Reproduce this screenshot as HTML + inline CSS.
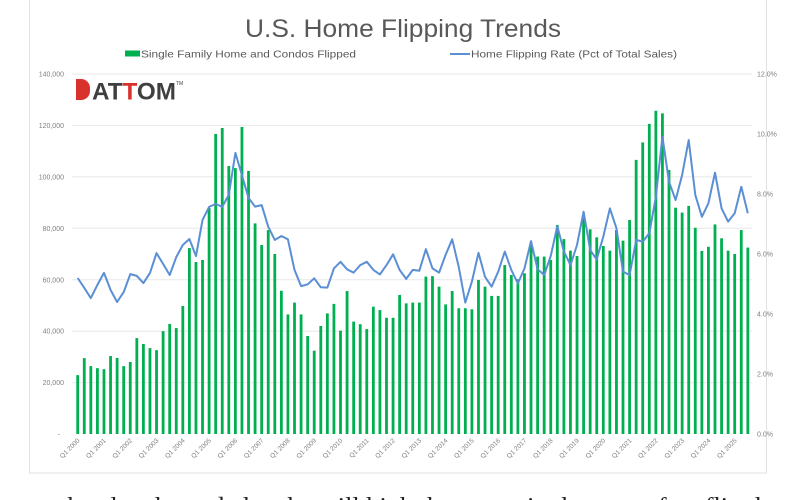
<!DOCTYPE html>
<html><head><meta charset="utf-8"><style>
html,body{margin:0;padding:0;background:#fff;width:804px;height:500px;overflow:hidden}
svg{display:block}
</style></head><body>
<svg id="s" width="804" height="500" viewBox="0 0 804 500" xmlns="http://www.w3.org/2000/svg" font-family="Liberation Sans, sans-serif">
<rect x="29.5" y="-2" width="737" height="475" fill="#fff" stroke="#e2e2e2" stroke-width="1"/>
<text x="403" y="37" text-anchor="middle" font-size="25" fill="#595959" textLength="316" lengthAdjust="spacingAndGlyphs">U.S. Home Flipping Trends</text>
<rect x="125" y="50.5" width="15" height="6" fill="#00b050"/>
<text x="141" y="57.5" font-size="10.5" fill="#595959" textLength="215" lengthAdjust="spacingAndGlyphs">Single Family Home and Condos Flipped</text>
<line x1="450" y1="54" x2="470" y2="54" stroke="#5b8fd4" stroke-width="2"/>
<text x="471" y="57.5" font-size="10.5" fill="#595959" textLength="206" lengthAdjust="spacingAndGlyphs">Home Flipping Rate (Pct of Total Sales)</text>
<g id="grid" stroke="#e8e8e8" stroke-width="1"></g>
<g font-size="7" fill="#7f7f7f" text-anchor="end">
<text x="64" y="76.5">140,000</text>
<text x="64" y="128">120,000</text>
<text x="64" y="179.4">100,000</text>
<text x="64" y="230.8">80,000</text>
<text x="64" y="282.3">60,000</text>
<text x="64" y="333.7">40,000</text>
<text x="64" y="385.1">20,000</text>
<text x="60" y="436.5">-</text>
</g>
<g font-size="7" fill="#7f7f7f">
<text x="757" y="76.5">12.0%</text>
<text x="757" y="136.5">10.0%</text>
<text x="757" y="196.5">8.0%</text>
<text x="757" y="256.5">6.0%</text>
<text x="757" y="316.5">4.0%</text>
<text x="757" y="376.5">2.0%</text>
<text x="757" y="436.5">0.0%</text>
</g>
<g id="bars" fill="#00b050"></g>
<polyline id="ln" fill="none" stroke="#5b8fd4" stroke-width="2" stroke-linejoin="round"/>
<g font-size="6.5" fill="#7f7f7f" text-anchor="end">
<text transform="translate(80,441) rotate(-45)">Q1 2000</text>
<text transform="translate(106.3,441) rotate(-45)">Q1 2001</text>
<text transform="translate(132.6,441) rotate(-45)">Q1 2002</text>
<text transform="translate(158.9,441) rotate(-45)">Q1 2003</text>
<text transform="translate(185.2,441) rotate(-45)">Q1 2004</text>
<text transform="translate(211.4,441) rotate(-45)">Q1 2005</text>
<text transform="translate(237.7,441) rotate(-45)">Q1 2006</text>
<text transform="translate(264,441) rotate(-45)">Q1 2007</text>
<text transform="translate(290.3,441) rotate(-45)">Q1 2008</text>
<text transform="translate(316.6,441) rotate(-45)">Q1 2009</text>
<text transform="translate(342.9,441) rotate(-45)">Q1 2010</text>
<text transform="translate(369.2,441) rotate(-45)">Q1 2011</text>
<text transform="translate(395.4,441) rotate(-45)">Q1 2012</text>
<text transform="translate(421.7,441) rotate(-45)">Q1 2013</text>
<text transform="translate(448,441) rotate(-45)">Q1 2014</text>
<text transform="translate(474.3,441) rotate(-45)">Q1 2015</text>
<text transform="translate(500.6,441) rotate(-45)">Q1 2016</text>
<text transform="translate(526.9,441) rotate(-45)">Q1 2017</text>
<text transform="translate(553.2,441) rotate(-45)">Q1 2018</text>
<text transform="translate(579.4,441) rotate(-45)">Q1 2019</text>
<text transform="translate(605.7,441) rotate(-45)">Q1 2020</text>
<text transform="translate(632,441) rotate(-45)">Q1 2021</text>
<text transform="translate(658.3,441) rotate(-45)">Q1 2022</text>
<text transform="translate(684.6,441) rotate(-45)">Q1 2023</text>
<text transform="translate(710.9,441) rotate(-45)">Q1 2024</text>
<text transform="translate(737.2,441) rotate(-45)">Q1 2025</text>
</g>
<g>
<path d="M76 79 h5 a9 9 0 0 1 9 9 v3 a9 9 0 0 1 -9 9 h-5 z" fill="#d9312b"/>
<text x="92" y="99.5" font-size="24" font-weight="bold" fill="#3f3f3f" textLength="84" lengthAdjust="spacingAndGlyphs">AT<tspan fill="#d9312b">T</tspan>OM</text>
<text x="176" y="85" font-size="5" fill="#3f3f3f">TM</text>
</g>
<text x="60" y="514" font-size="24" fill="#222" font-family="Liberation Serif, serif" textLength="720" lengthAdjust="spacingAndGlyphs">the also the and also the will high the can at in the case of an flip the</text>
</svg>
<script>
var B=[22.9,29.5,26.4,25.6,25.2,30.3,29.6,26.4,28.0,37.3,35.0,33.4,32.6,40.0,42.8,41.2,49.8,72.3,66.9,67.7,87.9,116.7,119,104.2,103.4,119.4,102.3,81.9,73.5,79.3,70.0,55.7,46.5,51.1,46.5,38.1,32.4,42.0,46.9,50.6,40.2,55.6,43.7,42.7,40.8,49.5,48.2,45.2,45.2,54.1,50.8,51.1,51.1,61.2,61.4,57.3,50.4,55.6,48.9,48.9,48.5,59.9,57.3,53.7,53.7,65.7,61.8,60.2,62.5,73.9,69.0,69.0,67.7,81.3,75.8,71.3,69.2,83.9,79.6,76.5,73.1,71.3,79.3,75.2,83.2,106.6,113.4,120.6,125.7,124.7,102.7,88.0,86.1,88.7,80.2,71.2,72.8,81.5,76.1,71.3,70.0,79.3,72.5];
var R=[5.2,4.87,4.53,4.97,5.37,4.8,4.4,4.73,5.33,5.27,5.03,5.37,6.03,5.67,5.3,5.9,6.3,6.5,5.93,7.13,7.57,7.67,7.57,7.97,9.37,8.63,7.87,7.58,7.63,6.91,6.47,6.6,6.49,5.47,4.93,4.99,5.19,4.89,4.88,5.52,5.74,5.49,5.38,5.63,5.74,5.47,5.32,5.63,5.99,5.47,5.17,5.47,5.44,6.16,5.52,5.38,5.97,6.49,5.56,4.38,5.08,6.04,5.24,4.91,5.41,6.08,5.47,5.02,5.52,6.43,5.49,5.3,5.93,6.93,6.08,5.63,6.3,7.41,6.13,5.82,6.58,7.52,6.86,5.41,5.3,6.47,6.41,6.69,7.91,9.91,8.41,7.8,8.63,9.8,7.97,7.24,7.69,8.71,7.52,7.08,7.36,8.24,7.36,6.8];
var ns="http://www.w3.org/2000/svg",g=document.getElementById('grid'),b=document.getElementById('bars');
for(var k=1;k<=7;k++){var y=434-k*360/7;var l=document.createElementNS(ns,'line');l.setAttribute('x1',72);l.setAttribute('x2',752);l.setAttribute('y1',y);l.setAttribute('y2',y);g.appendChild(l);}
var pts=[];
for(var i=0;i<B.length;i++){var x=77.7+i*6.57;var h=B[i]/140*360;var r=document.createElementNS(ns,'rect');r.setAttribute('x',x-1.4);r.setAttribute('y',434-h);r.setAttribute('width',2.8);r.setAttribute('height',h);b.appendChild(r);
pts.push(x.toFixed(1)+','+(434-R[i]*30).toFixed(1));}
document.getElementById('ln').setAttribute('points',pts.join(' '));
</script>
</body></html>
